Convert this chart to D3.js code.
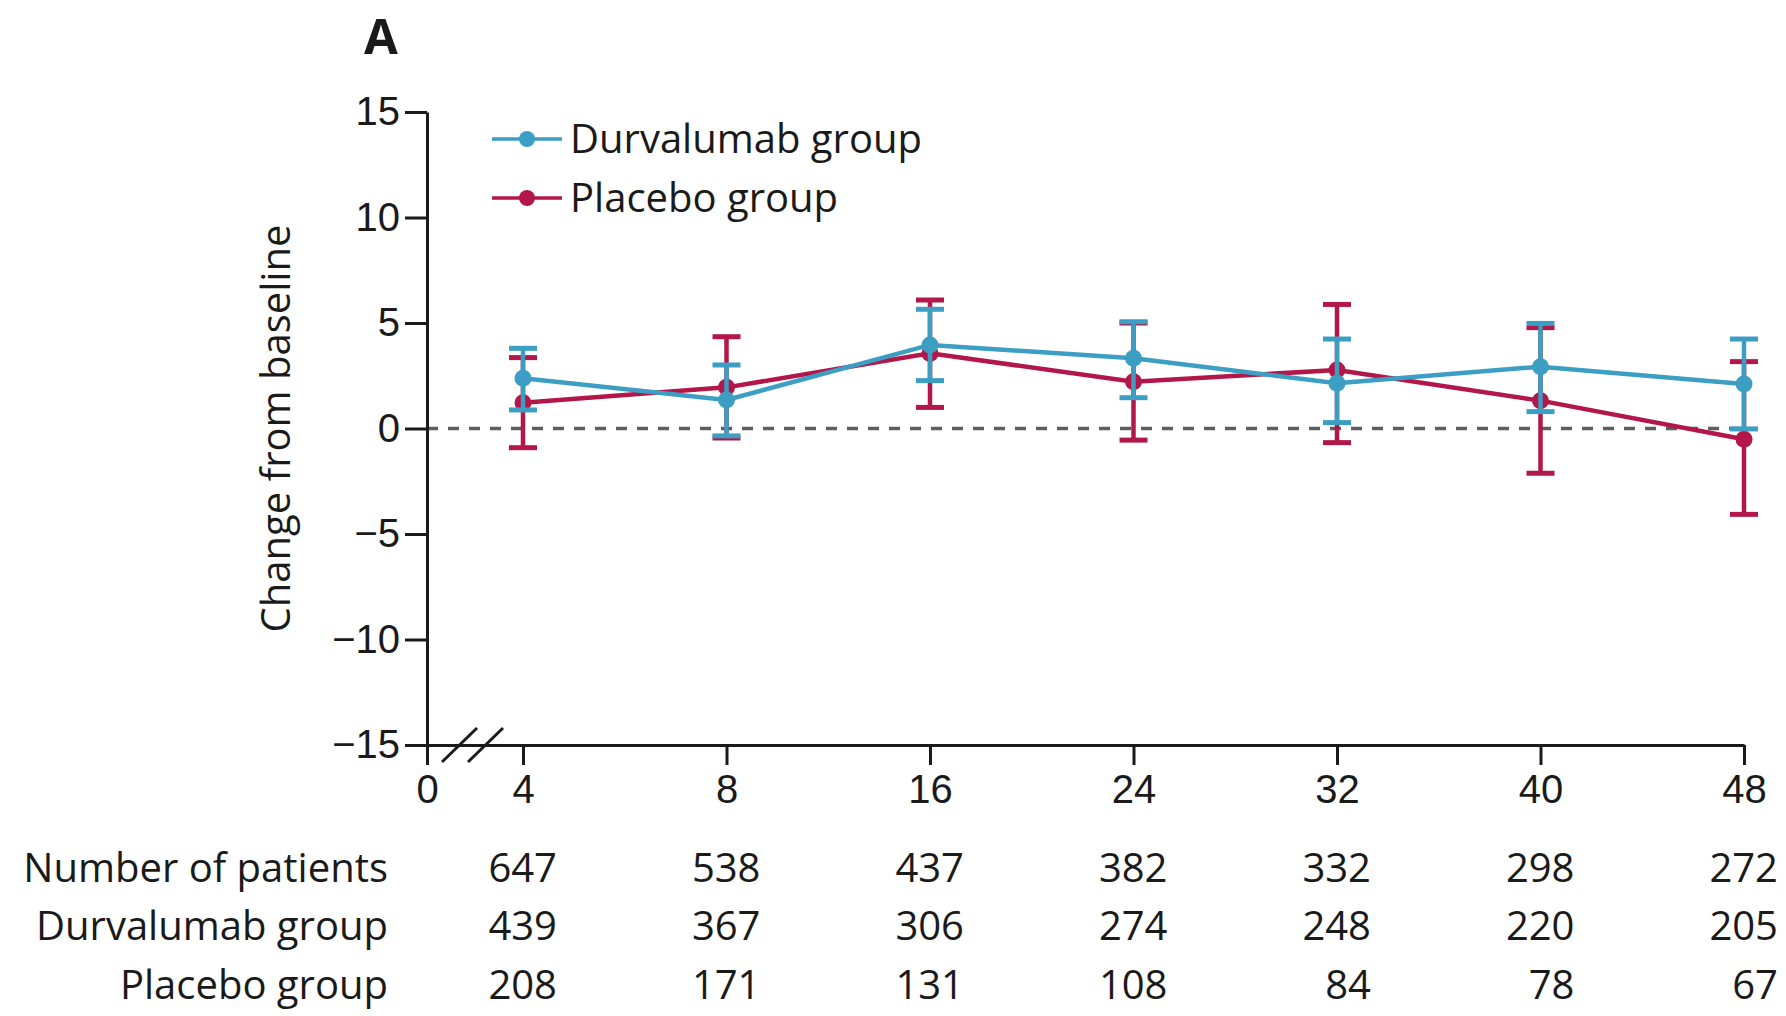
<!DOCTYPE html>
<html>
<head>
<meta charset="utf-8">
<script src="https://cdn.jsdelivr.net/npm/d3@7"></script>
<style>
  body { margin: 0; background: #fff; }
  svg { display: block; font-family: "Open Sans", sans-serif; }
</style>
</head>
<body>
<div id="chart"></div>
<script>
const weeks = [4, 8, 16, 24, 32, 40, 48]
const yTicks = [-15, -10, -5, 0, 5, 10, 15]

const durvalumabMean = [2.38, 1.35, 3.96, 3.33, 2.14, 2.93, 2.11]
const durvalumabLower = [0.88, -0.35, 2.27, 1.46, 0.28, 0.80, -0.02]
const durvalumabUpper = [3.80, 3.01, 5.65, 5.06, 4.24, 4.98, 4.24]

const placeboMean = [1.22, 1.95, 3.56, 2.22, 2.77, 1.32, -0.51]
const placeboLower = [-0.91, -0.45, 1.00, -0.55, -0.67, -2.12, -4.07]
const placeboUpper = [3.36, 4.35, 6.09, 5.00, 5.88, 4.78, 3.17]

const rowLabels = ['Number of patients', 'Durvalumab group', 'Placebo group']
const totalPatients = [647, 538, 437, 382, 332, 298, 272]
const durvalumabPatients = [439, 367, 306, 274, 248, 220, 205]
const placeboPatients = [208, 171, 131, 108, 84, 78, 67]

const durvColor = '#3b9ec2'
const placColor = '#b3174a'
const ink = '#1a1a1a'

const svg = d3.select('#chart').append('svg')
  .attr('width', 1786)
  .attr('height', 1016)

// weeks sit on evenly spaced slots, week 0 is placed before the axis break
const xp = d3.scalePoint().domain(weeks).range([523, 1744])
const x = d3.scaleOrdinal()
  .domain([0].concat(weeks))
  .range([427].concat(weeks.map(w => xp(w))))

const y = d3.scaleLinear().domain([-15, 15]).range([745, 112])

// panel letter
svg.append('text')
  .attr('x', 364).attr('y', 54)
  .style('font-size', '49px').style('font-weight', 700)
  .attr('fill', ink)
  .text('A')

// zero reference line
svg.append('line')
  .attr('x1', x(0)).attr('x2', xp(48))
  .attr('y1', y(0)).attr('y2', y(0))
  .attr('stroke', '#5e5e5e').attr('stroke-width', 3.5)
  .attr('stroke-dasharray', '11,10')

// axes
const yAxis = svg.append('g')
  .attr('transform', `translate(${x(0)},0)`)
  .call(d3.axisLeft(y).tickValues(yTicks).tickSize(22).tickSizeOuter(0).tickPadding(5)
    .tickFormat(d => d < 0 ? '\u2212' + Math.abs(d) : d))

const xAxis = svg.append('g')
  .attr('transform', `translate(0,${y(-15)})`)
  .call(d3.axisBottom(x).tickSize(20).tickSizeOuter(0).tickPadding(10))

;[yAxis, xAxis].forEach(g => {
  g.select('.domain').attr('stroke', ink).attr('stroke-width', 3)
  g.selectAll('.tick line').attr('stroke', ink).attr('stroke-width', 3)
  g.selectAll('.tick text').attr('fill', ink).style('font-size', '40px').attr('font-family', null)
})

// axis break marks
svg.selectAll('.brk')
  .data([0, 1])
  .enter()
  .append('line')
  .attr('class', 'brk')
  .attr('x1', d => 442 + d * 26).attr('y1', y(-15) + 17)
  .attr('x2', d => 477 + d * 26).attr('y2', y(-15) - 17)
  .attr('stroke', ink).attr('stroke-width', 3)

svg.append('text')
  .attr('transform', `translate(290,${y(0)}) rotate(-90)`)
  .attr('text-anchor', 'middle')
  .style('font-size', '40px')
  .attr('fill', ink)
  .text('Change from baseline')

function drawSeries(mean, lower, upper, color) {
  const pts = weeks.map((w, i) => ({ w: w, m: mean[i], lo: lower[i], hi: upper[i] }))
  const g = svg.append('g')

  g.append('path')
    .datum(pts)
    .attr('fill', 'none')
    .attr('stroke', color)
    .attr('stroke-width', 4.5)
    .attr('d', d3.line().x(d => xp(d.w)).y(d => y(d.m)))

  const bars = g.selectAll('.err')
    .data(pts)
    .enter()
    .append('g')

  bars.append('line')
    .attr('x1', d => xp(d.w)).attr('x2', d => xp(d.w))
    .attr('y1', d => y(d.lo)).attr('y2', d => y(d.hi))
    .attr('stroke', color).attr('stroke-width', 4.5)

  ;['lo', 'hi'].forEach(k => {
    bars.append('line')
      .attr('x1', d => xp(d.w) - 14).attr('x2', d => xp(d.w) + 14)
      .attr('y1', d => y(d[k])).attr('y2', d => y(d[k]))
      .attr('stroke', color).attr('stroke-width', 5)
  })

  g.selectAll('circle')
    .data(pts)
    .enter()
    .append('circle')
    .attr('cx', d => xp(d.w))
    .attr('cy', d => y(d.m))
    .attr('r', 8.5)
    .attr('fill', color)
}

drawSeries(placeboMean, placeboLower, placeboUpper, placColor)
drawSeries(durvalumabMean, durvalumabLower, durvalumabUpper, durvColor)

// legend
const legend = [
  { name: 'Durvalumab group', color: durvColor },
  { name: 'Placebo group', color: placColor }
]
const lg = svg.selectAll('.legend')
  .data(legend)
  .enter()
  .append('g')
  .attr('transform', (d, i) => `translate(0,${139 + i * 59})`)

lg.append('line')
  .attr('x1', 492).attr('x2', 562)
  .attr('stroke', d => d.color).attr('stroke-width', 3.5)
lg.append('circle')
  .attr('cx', 527).attr('r', 8)
  .attr('fill', d => d.color)
lg.append('text')
  .attr('x', 570).attr('y', 14)
  .style('font-size', '40px')
  .attr('fill', ink)
  .text(d => d.name)

// number at risk table
const rows = [totalPatients, durvalumabPatients, placeboPatients]
const rowY = [882, 940, 999]

svg.selectAll('.rowlabel')
  .data(rowLabels)
  .enter()
  .append('text')
  .attr('x', 388)
  .attr('y', (d, i) => rowY[i])
  .attr('text-anchor', 'end')
  .style('font-size', '40px')
  .attr('fill', ink)
  .text(d => d)

rows.forEach((vals, r) => {
  svg.selectAll('.n' + r)
    .data(vals)
    .enter()
    .append('text')
    .attr('x', (d, i) => xp(weeks[i]) + 34)
    .attr('y', rowY[r])
    .attr('text-anchor', 'end')
    .style('font-size', '40px')
    .attr('fill', ink)
    .text(d => d)
})
</script>
</body>
</html>
